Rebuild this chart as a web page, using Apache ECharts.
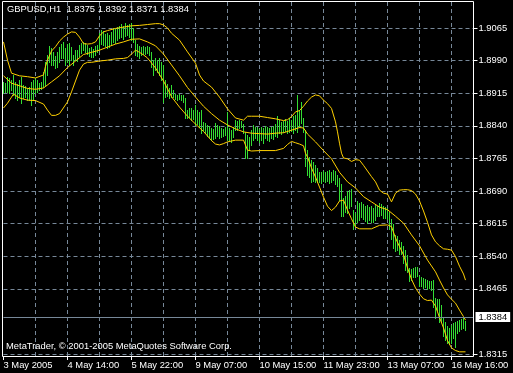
<!DOCTYPE html>
<html><head><meta charset="utf-8">
<script src="https://cdn.jsdelivr.net/npm/echarts@6/dist/echarts.min.js"></script>
<style>html,body{margin:0;padding:0;background:#000;}#c{width:513px;height:373px;}</style>
</head><body><div id="c"></div>
<script>
const titleText = 'GBPUSD,H1  1.8375 1.8392 1.8371 1.8384';
const copyrightText = 'MetaTrader, \u00a9 2001-2005 MetaQuotes Software Corp.';
const timeLabels = ['3 May 2005','4 May 14:00','5 May 22:00','9 May 07:00','10 May 15:00','11 May 23:00','13 May 07:00','16 May 16:00'];
const barsPerLabel = 32;
const slotCount = 236;
const priceTicks = [1.8315,1.8465,1.8540,1.8615,1.8690,1.8765,1.8840,1.8915,1.8990,1.9065];
const lastPrice = 1.8384;

const highs = [
1.8941,1.8938,1.8952,1.8950,1.8945,1.8957,1.8941,1.8936,1.8945,1.8952,
1.8934,1.8932,1.8927,1.8929,1.8941,1.8945,1.8950,1.8945,1.8938,1.8941,
1.8964,1.8987,1.9003,1.9024,1.9019,1.9010,1.9001,1.9010,1.9021,1.9028,
1.9033,1.9019,1.9028,1.9030,1.9021,1.9003,1.9014,1.9014,1.9026,1.9030,
1.9033,1.9030,1.9026,1.9019,1.9021,1.9017,1.9024,1.9026,1.9053,1.9060,
1.9058,1.9051,1.9053,1.9049,1.9056,1.9065,1.9063,1.9067,1.9070,1.9074,
1.9070,1.9077,1.9072,1.9074,1.9077,1.9065,1.9037,1.9028,1.9024,1.9021,
1.9024,1.9021,1.9024,1.9021,1.9010,1.8991,1.8996,1.8991,1.8996,1.8987,
1.8980,1.8945,1.8936,1.8927,1.8934,1.8922,1.8913,1.8911,1.8913,1.8911,
1.8911,1.8904,1.8876,1.8881,1.8881,1.8876,1.8888,1.8876,1.8872,1.8876,
1.8849,1.8846,1.8842,1.8840,1.8835,1.8833,1.8846,1.8842,1.8840,1.8835,
1.8833,1.8837,1.8872,1.8835,1.8830,1.8837,1.8853,1.8851,1.8853,1.8851,
1.8844,1.8826,1.8819,1.8814,1.8830,1.8842,1.8837,1.8837,1.8833,1.8837,
1.8835,1.8840,1.8837,1.8835,1.8837,1.8840,1.8844,1.8862,1.8853,1.8849,
1.8851,1.8856,1.8851,1.8858,1.8853,1.8862,1.8865,1.8911,1.8876,1.8895,
1.8858,1.8830,1.8784,1.8768,1.8761,1.8757,1.8750,1.8743,1.8734,1.8734,
1.8736,1.8734,1.8736,1.8738,1.8734,1.8738,1.8736,1.8727,1.8720,1.8706,
1.8674,1.8678,1.8690,1.8692,1.8695,1.8646,1.8639,1.8667,1.8662,1.8665,
1.8660,1.8655,1.8658,1.8653,1.8655,1.8651,1.8658,1.8655,1.8662,1.8660,
1.8655,1.8653,1.8651,1.8642,1.8626,1.8614,1.8589,1.8587,1.8577,1.8573,
1.8564,1.8554,1.8543,1.8513,1.8511,1.8513,1.8515,1.8515,1.8494,1.8492,
1.8490,1.8487,1.8485,1.8483,1.8483,1.8485,1.8444,1.8441,1.8441,1.8428,
1.8398,1.8389,1.8379,1.8375,1.8382,1.8386,1.8389,1.8391,1.8393,1.8395,
1.8398,1.8392
];
const lows = [
1.8915,1.8918,1.8918,1.8915,1.8922,1.8911,1.8904,1.8899,1.8906,1.8892,
1.8904,1.8906,1.8899,1.8899,1.8888,1.8899,1.8915,1.8918,1.8922,1.8925,
1.8929,1.8934,1.8957,1.8987,1.8980,1.8980,1.8973,1.8975,1.8987,1.8996,
1.8996,1.8980,1.8987,1.8980,1.8991,1.8980,1.8991,1.8989,1.9001,1.9007,
1.9014,1.9010,1.9005,1.9001,1.8998,1.8998,1.9003,1.9010,1.9014,1.9028,
1.9026,1.9024,1.9019,1.9021,1.9026,1.9033,1.9030,1.9037,1.9042,1.9044,
1.9040,1.9047,1.9049,1.9044,1.9037,1.9033,1.9003,1.9001,1.8996,1.9003,
1.9005,1.9005,1.9007,1.9003,1.8975,1.8957,1.8968,1.8964,1.8957,1.8945,
1.8895,1.8906,1.8909,1.8904,1.8906,1.8906,1.8902,1.8899,1.8902,1.8899,
1.8895,1.8858,1.8858,1.8860,1.8853,1.8856,1.8842,1.8844,1.8837,1.8823,
1.8830,1.8823,1.8816,1.8814,1.8807,1.8810,1.8812,1.8816,1.8812,1.8814,
1.8816,1.8819,1.8807,1.8807,1.8803,1.8814,1.8830,1.8830,1.8835,1.8837,
1.8823,1.8766,1.8766,1.8784,1.8796,1.8807,1.8812,1.8807,1.8803,1.8807,
1.8800,1.8812,1.8807,1.8805,1.8812,1.8810,1.8816,1.8814,1.8823,1.8821,
1.8826,1.8828,1.8823,1.8826,1.8828,1.8823,1.8830,1.8826,1.8837,1.8846,
1.8826,1.8748,1.8727,1.8722,1.8711,1.8713,1.8711,1.8711,1.8711,1.8708,
1.8713,1.8711,1.8713,1.8708,1.8711,1.8715,1.8706,1.8702,1.8669,1.8632,
1.8632,1.8642,1.8639,1.8651,1.8655,1.8603,1.8610,1.8619,1.8623,1.8630,
1.8626,1.8621,1.8616,1.8623,1.8619,1.8619,1.8623,1.8632,1.8632,1.8635,
1.8628,1.8628,1.8626,1.8603,1.8580,1.8559,1.8552,1.8554,1.8545,1.8545,
1.8524,1.8508,1.8504,1.8483,1.8485,1.8492,1.8492,1.8494,1.8471,1.8471,
1.8467,1.8469,1.8464,1.8467,1.8462,1.8423,1.8398,1.8416,1.8389,1.8389,
1.8357,1.8347,1.8340,1.8338,1.8340,1.8352,1.8331,1.8363,1.8368,1.8373,
1.8375,1.8371
];

const bbUpper = [[0,1.9033],[2,1.8991],[4,1.8961],[8,1.8955],[12,1.8953],[16,1.8950],[20,1.8957],[21,1.8977],[22,1.8991],[24,1.9012],[26,1.9022],[28,1.9035],[30,1.9044],[32,1.9051],[34,1.9056],[36,1.9055],[38,1.9044],[40,1.9029],[42,1.9028],[44,1.9029],[46,1.9033],[47,1.9037],[48,1.9047],[50,1.9056],[52,1.9059],[56,1.9064],[60,1.9067],[64,1.9070],[68,1.9071],[72,1.9073],[76,1.9075],[78,1.9075],[80,1.9072],[82,1.9065],[84,1.9053],[88,1.9037],[92,1.9010],[96,1.8984],[98,1.8957],[100,1.8943],[104,1.8929],[108,1.8906],[112,1.8879],[116,1.8858],[120,1.8853],[122,1.8862],[124,1.8862],[128,1.8862],[132,1.8859],[136,1.8856],[140,1.8852],[142,1.8854],[144,1.8861],[146,1.8872],[148,1.8875],[150,1.8885],[152,1.8897],[154,1.8906],[156,1.8911],[158,1.8909],[160,1.8899],[162,1.8891],[164,1.8880],[166,1.8849],[167,1.8826],[168,1.8800],[169,1.8777],[170,1.8766],[172,1.8764],[174,1.8758],[176,1.8762],[178,1.8761],[180,1.8749],[182,1.8736],[184,1.8723],[186,1.8711],[188,1.8692],[190,1.8685],[192,1.8683],[194,1.8665],[196,1.8685],[198,1.8692],[200,1.8693],[202,1.8693],[204,1.8691],[206,1.8683],[208,1.8667],[210,1.8644],[212,1.8618],[214,1.8589],[216,1.8573],[218,1.8564],[220,1.8557],[222,1.8556],[224,1.8554],[226,1.8539],[228,1.8517],[230,1.8499],[231,1.8485]];
const bbMiddle = [[0,1.8955],[4,1.8938],[8,1.8932],[12,1.8926],[16,1.8924],[20,1.8927],[24,1.8941],[28,1.8955],[32,1.8974],[36,1.8989],[40,1.9004],[44,1.9009],[48,1.9014],[52,1.9021],[56,1.9028],[60,1.9033],[64,1.9039],[68,1.9040],[72,1.9033],[76,1.9024],[80,1.9005],[84,1.8980],[88,1.8955],[92,1.8928],[96,1.8906],[100,1.8885],[104,1.8868],[108,1.8853],[112,1.8842],[116,1.8833],[120,1.8826],[124,1.8823],[128,1.8822],[132,1.8821],[136,1.8823],[140,1.8824],[144,1.8830],[148,1.8836],[150,1.8835],[152,1.8821],[156,1.8803],[160,1.8783],[164,1.8764],[168,1.8733],[172,1.8711],[176,1.8697],[180,1.8677],[184,1.8665],[188,1.8653],[192,1.8647],[196,1.8632],[200,1.8616],[204,1.8589],[208,1.8564],[212,1.8531],[216,1.8504],[218,1.8485],[220,1.8467],[222,1.8451],[224,1.8441],[226,1.8432],[228,1.8416],[230,1.8401],[231,1.8393]];
const bbLower = [[0,1.8881],[2,1.8892],[4,1.8906],[5,1.8913],[8,1.8904],[12,1.8899],[16,1.8898],[20,1.8890],[22,1.8876],[24,1.8864],[26,1.8864],[28,1.8868],[32,1.8895],[34,1.8918],[36,1.8943],[38,1.8968],[40,1.8982],[42,1.8986],[44,1.8986],[48,1.8989],[52,1.8991],[56,1.8994],[60,1.8995],[62,1.8997],[64,1.9005],[66,1.9014],[68,1.9009],[70,1.9003],[72,1.8996],[76,1.8973],[80,1.8943],[84,1.8907],[88,1.8883],[92,1.8862],[96,1.8844],[100,1.8827],[104,1.8806],[106,1.8798],[108,1.8796],[110,1.8799],[112,1.8803],[116,1.8807],[120,1.8807],[122,1.8784],[124,1.8782],[128,1.8783],[136,1.8783],[140,1.8788],[142,1.8797],[144,1.8804],[146,1.8801],[148,1.8798],[150,1.8794],[151,1.8777],[152,1.8768],[154,1.8743],[156,1.8722],[158,1.8699],[160,1.8676],[162,1.8655],[164,1.8645],[166,1.8653],[168,1.8667],[170,1.8669],[172,1.8646],[174,1.8626],[176,1.8607],[178,1.8603],[184,1.8603],[188,1.8611],[192,1.8612],[194,1.8608],[196,1.8582],[198,1.8562],[200,1.8543],[202,1.8513],[204,1.8487],[206,1.8467],[208,1.8453],[210,1.8442],[212,1.8438],[214,1.8439],[216,1.8425],[218,1.8399],[220,1.8375],[222,1.8346],[224,1.8329],[226,1.8323],[228,1.8320],[231,1.8320]];

const FONT = '"Liberation Sans", Arial, sans-serif';
const FS = 9.4;
const BAR_COLOR = '#33dd33';
const BAND_COLOR = '#ffd000';
const GRID_COLOR = '#778899';

const cats = [];
for (let i = 0; i < slotCount; i++) {
  const k = i / barsPerLabel;
  cats.push(i % barsPerLabel === 0 && timeLabels[k] ? timeLabels[k] : '');
}
const barData = highs.map((h, i) => [i, h, lows[i]]);

const chart = echarts.init(document.getElementById('c'), null, {renderer: 'canvas'});
const bandSeries = (data, extra) => Object.assign({
  type: 'line', data: data, showSymbol: false, symbol: 'none', smooth: false,
  lineStyle: {color: BAND_COLOR, width: 1}, silent: true, z: 3
}, extra || {});

chart.setOption({
  backgroundColor: '#000',
  animation: false,
  grid: {left: 3.5, right: 39.5, top: 2, bottom: 17},
  xAxis: {
    type: 'category', data: cats, boundaryGap: false,
    axisLine: {show: false},
    axisTick: {show: true, interval: barsPerLabel - 1, length: 4, lineStyle: {color: '#fff'}},
    axisLabel: {interval: barsPerLabel - 1, color: '#fff', fontSize: FS, fontFamily: FONT, align: 'left', margin: 5},
    splitLine: {show: true, interval: barsPerLabel / 2 - 1, showMinLine: false, lineStyle: {color: GRID_COLOR, type: [4, 3], width: 1}}
  },
  yAxis: {
    type: 'value', position: 'right', min: 1.83104, max: 1.91248, scale: true,
    axisLine: {show: false},
    axisTick: {show: true, customValues: priceTicks, length: 4, lineStyle: {color: '#fff'}},
    axisLabel: {customValues: priceTicks, color: '#fff', fontSize: FS, fontFamily: FONT, margin: 5, formatter: v => v.toFixed(4)},
    splitLine: {show: true, lineStyle: {color: GRID_COLOR, type: [4, 3], width: 1}}
  },
  series: [
    {
      type: 'custom', data: barData, silent: true, z: 2,
      encode: {x: 0, y: [1, 2]},
      renderItem: function (params, api) {
        const hi = api.coord([api.value(0), api.value(1)]);
        const lo = api.coord([api.value(0), api.value(2)]);
        const x = Math.floor(hi[0]) + 0.5;
        return {type: 'line', shape: {x1: x, y1: Math.round(hi[1]), x2: x, y2: Math.round(lo[1]) + 1},
          style: {stroke: BAR_COLOR, lineWidth: 1}};
      }
    },
    bandSeries(bbUpper),
    bandSeries(bbLower),
    bandSeries(bbMiddle, {
      markLine: {
        silent: true, symbol: 'none', animation: false,
        lineStyle: {color: GRID_COLOR, type: 'solid', width: 1},
        emphasis: {disabled: true},
        label: {show: true, position: 'end', distance: 2, formatter: lastPrice.toFixed(4),
          color: '#000', backgroundColor: '#fff', padding: [1, 3, 0, 3], lineHeight: 9,
          fontSize: FS, fontFamily: FONT},
        data: [{yAxis: lastPrice}]
      }
    })
  ],
  graphic: [
    {type: 'rect', silent: true, z: 100, shape: {x: 2.5, y: 1.5, width: 471, height: 355},
      style: {fill: 'none', stroke: '#fff', lineWidth: 1}},
    {type: 'text', silent: true, z: 100, x: 7, y: 5,
      style: {text: titleText, fill: '#fff', fontSize: FS, fontFamily: FONT, verticalAlign: 'top'}},
    {type: 'text', silent: true, z: 100, x: 6, y: 342,
      style: {text: copyrightText, fill: '#fff', fontSize: FS, fontFamily: FONT, verticalAlign: 'top'}}
  ]
});
</script>
</body></html>
